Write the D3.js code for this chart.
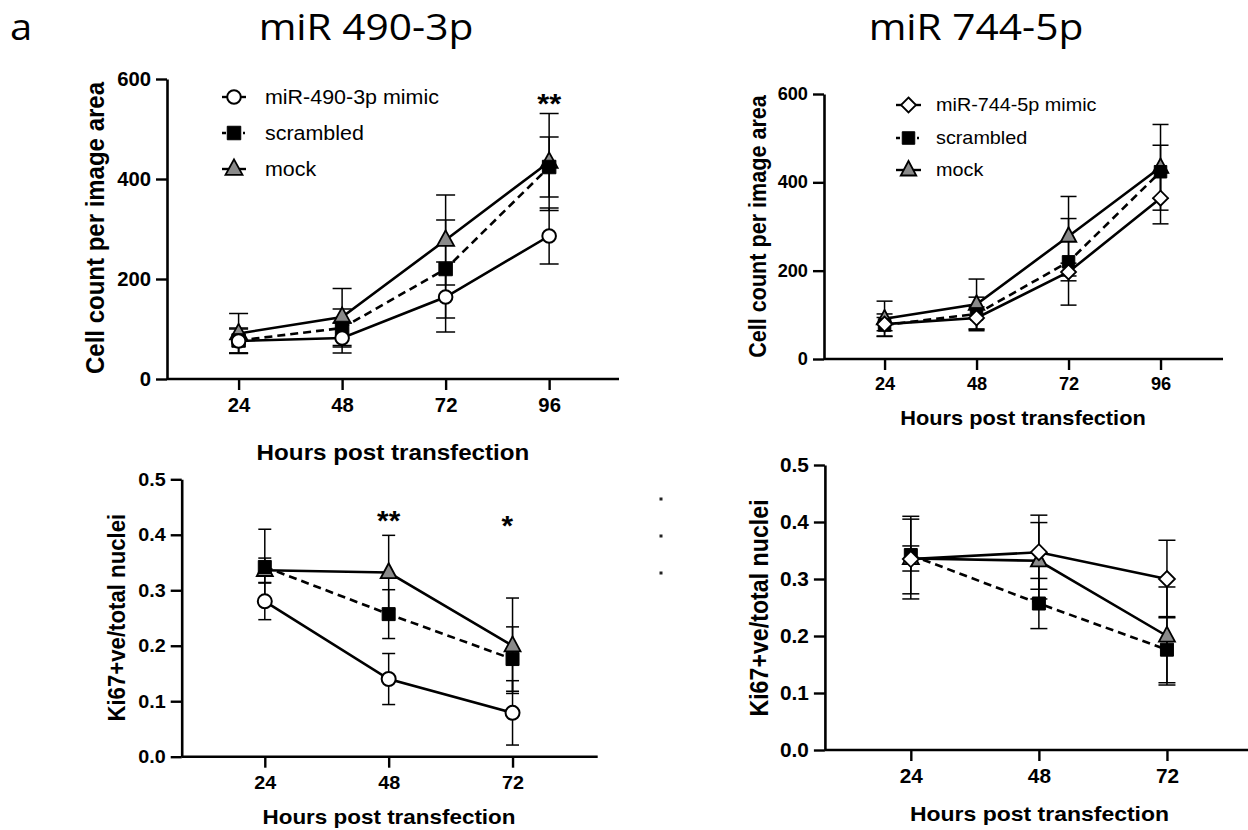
<!DOCTYPE html>
<html><head><meta charset="utf-8">
<script src="https://cdn.jsdelivr.net/npm/d3@7"></script>
<style>body{margin:0;background:#fff;} svg{display:block;}</style>
</head><body>
<svg id="c" width="1248" height="830"></svg>
<script>
// ---------------- data ----------------
const hoursCount = [24, 48, 72, 96];
const hoursKi = [24, 48, 72];
const countTicks = [0, 200, 400, 600];
const kiTicks = [0, 0.1, 0.2, 0.3, 0.4, 0.5];

const mimic490Count = [76, 82, 164, 286];
const mimic490CountErr = [24, 30, 70, 56];
const mimic744Count = [79, 93, 197, 364];
const mimic744CountErr = [15, 25, 20, 58];
const scrambledCount = [77, 102, 220, 424];
const scrambledCountErr = [25, 38, 98, 60];
const mockCount = [91, 124, 278, 434];
const mockCountErr = [40, 57, 90, 97];

const mimic490Ki = [0.280, 0.140, 0.079];
const mimic490KiErr = [0.033, 0.046, 0.058];
const mimic744Ki = [0.335, 0.347, 0.300];
const mimic744KiErr = [0.070, 0.065, 0.068];
const scrambledKi = [0.342, 0.257, 0.176];
const scrambledKiErr = [0.068, 0.044, 0.058];
const mockKi = [0.336, 0.332, 0.200];
const mockKiErr = [0.022, 0.067, 0.086];

const legend490 = ["miR-490-3p mimic", "scrambled", "mock"];
const legend744 = ["miR-744-5p mimic", "scrambled", "mock"];
const titles = ["miR 490-3p", "miR 744-5p"];
const panelLetter = "a";
const xTitle = "Hours post transfection";
const yTitleCount = "Cell count per image area";
const yTitleKi = "Ki67+ve/total nuclei";

// ---------------- drawing ----------------
const K = 1.1;   // horizontal stretch of the reference image
const KT = 1.04; // stretch used for tick labels
const svg = d3.select("#c");
const ARIAL = "'Liberation Sans', Arial, sans-serif";

function txt(g, s, x, y, o) {
  const t = g.append("text").text(s)
    .attr("transform", `translate(${x},${y}) scale(${o.k || K},1)` + (o.rot ? " rotate(-90)" : ""))
    .attr("font-family", o.family || ARIAL)
    .attr("font-size", o.size)
    .attr("font-weight", o.weight || "normal")
    .attr("text-anchor", o.anchor || "middle")
    .attr("fill", "#000");
  if (o.dy) t.attr("dy", o.dy);
  return t;
}

function markerPath(shape, s) {
  if (shape === "square") { const a = s.sq; return `M${-a/2},${-a/2}h${a}v${a}h${-a}Z`; }
  if (shape === "triangle") { const w = s.triW, h = s.triH; return `M0,${-h*0.62}L${w/2},${h*0.38}L${-w/2},${h*0.38}Z`; }
  if (shape === "diamond") { const d = s.dia; return `M0,${-d}L${d},0L0,${d}L${-d},0Z`; }
  return null;
}
function drawMarker(g, shape, x, y, s) {
  const fill = shape === "square" ? "#000" : shape === "triangle" ? "#8a8a8a" : "#fff";
  if (shape === "circle") {
    g.append("circle").attr("cx", x).attr("cy", y).attr("r", s.r)
      .attr("fill", fill).attr("stroke", "#000").attr("stroke-width", 2);
  } else {
    g.append("path").attr("d", markerPath(shape, s)).attr("transform", `translate(${x},${y})`)
      .attr("fill", fill).attr("stroke", "#000").attr("stroke-width", shape === "square" ? 1 : 1.8)
      .attr("stroke-linejoin", "miter");
  }
}

const panels = [
  { // top-left
    xDom: [7.4, 112.2], xRange: [167, 619], yDom: [0, 600], yRange: [379, 79],
    hours: hoursCount, yTicks: countTicks, fmt: d3.format("d"), yTitle: yTitleCount,
    series: [
      { v: mockCount, e: mockCountErr, shape: "triangle", dash: false },
      { v: scrambledCount, e: scrambledCountErr, shape: "square", dash: true },
      { v: mimic490Count, e: mimic490CountErr, shape: "circle", dash: false }
    ],
    tickFont: 19.5, xTitleFont: 22, yTitleFont: 24,
    xTitlePos: [393, 452], yTitlePos: [94, 228], cap: 9.5,
    ms: { r: 6.8, sq: 13.5, triW: 17, triH: 15.5, dia: 7.5 },
    legend: { names: legend490, shapes: ["circle", "square", "triangle"], ys: [97, 133, 169], x0: 222, x1: 246, tx: 265, font: 19.5 },
    stars: [{ h: 96, s: "**", y: 97.5, size: 28 }]
  },
  { // top-right
    xDom: [8.2, 112.3], xRange: [824, 1223], yDom: [0, 600], yRange: [359, 94],
    hours: hoursCount, yTicks: countTicks, fmt: d3.format("d"), yTitle: yTitleCount,
    series: [
      { v: mockCount, e: mockCountErr, shape: "triangle", dash: false },
      { v: scrambledCount, e: scrambledCountErr, shape: "square", dash: true },
      { v: mimic744Count, e: mimic744CountErr, shape: "diamond", dash: false }
    ],
    tickFont: 17.5, xTitleFont: 19.8, yTitleFont: 21.6,
    xTitlePos: [1023, 418], yTitlePos: [757, 226.5], cap: 8,
    ms: { r: 6.5, sq: 12.5, triW: 15.5, triH: 14.5, dia: 7.5 },
    legend: { names: legend744, shapes: ["diamond", "square", "triangle"], ys: [105, 138, 170], x0: 896, x1: 921, tx: 936, font: 18 },
    stars: []
  },
  { // bottom-left
    xDom: [7.9, 88.5], xRange: [181.7, 597.7], yDom: [0, 0.5], yRange: [756.7, 479.3],
    hours: hoursKi, yTicks: kiTicks, fmt: d3.format(".1f"), yTitle: yTitleKi,
    series: [
      { v: mockKi, e: mockKiErr, shape: "triangle", dash: false },
      { v: scrambledKi, e: scrambledKiErr, shape: "square", dash: true },
      { v: mimic490Ki, e: mimic490KiErr, shape: "circle", dash: false }
    ],
    tickFont: 19, xTitleFont: 20.4, yTitleFont: 22.2,
    xTitlePos: [389, 817], yTitlePos: [116.5, 617.7], cap: 6.5,
    ms: { r: 7, sq: 13, triW: 16, triH: 15, dia: 7.5 },
    legend: null,
    stars: [{ h: 48, s: "**", y: 515, size: 27 }, { h: 71, s: "*", y: 520, size: 27 }]
  },
  { // bottom-right
    xDom: [7.9, 88.5], xRange: [824.9, 1255], yDom: [0, 0.5], yRange: [750, 465],
    hours: hoursKi, yTicks: kiTicks, fmt: d3.format(".1f"), yTitle: yTitleKi,
    series: [
      { v: mockKi, e: mockKiErr, shape: "triangle", dash: false },
      { v: scrambledKi, e: scrambledKiErr, shape: "square", dash: true },
      { v: mimic744Ki, e: mimic744KiErr, shape: "diamond", dash: false }
    ],
    tickFont: 20, xTitleFont: 20.9, yTitleFont: 23.2,
    xTitlePos: [1039.5, 813.3], yTitlePos: [759, 608], cap: 8.5,
    ms: { r: 7, sq: 13, triW: 16, triH: 15, dia: 8 },
    legend: null,
    stars: []
  }
];

panels.forEach(p => {
  const g = svg.append("g");
  const x = d3.scaleLinear().domain(p.xDom).range(p.xRange);
  const y = d3.scaleLinear().domain(p.yDom).range(p.yRange);

  // axes
  const ya = g.append("g").attr("transform", `translate(${p.xRange[0]},0)`)
    .call(d3.axisLeft(y).tickValues(p.yTicks).tickFormat(p.fmt).tickSize(11).tickPadding(5).tickSizeOuter(0));
  const xa = g.append("g").attr("transform", `translate(0,${p.yRange[0]})`)
    .call(d3.axisBottom(x).tickValues(p.hours).tickFormat(d3.format("d")).tickSize(11).tickPadding(8).tickSizeOuter(0));
  [ya, xa].forEach(a => {
    a.select(".domain").attr("stroke-width", 2.6).attr("stroke", "#000");
    a.selectAll(".tick line").attr("stroke-width", 2.4).attr("stroke", "#000");
    a.selectAll(".tick text").attr("font-family", ARIAL).attr("font-weight", "bold")
      .attr("font-size", p.tickFont).attr("fill", "#000");
  });
  ya.selectAll(".tick text").each(function () {
    const t = d3.select(this); const tx = +t.attr("x");
    t.attr("x", 0).attr("transform", `translate(${tx},0) scale(${KT},1)`);
  });
  xa.selectAll(".tick text").attr("transform", `scale(${KT},1)`);
  xa.select(".domain").attr("d", `M${p.xRange[0]},0H${p.xRange[1]}`);

  // titles
  txt(g, xTitle, p.xTitlePos[0], p.xTitlePos[1], { size: p.xTitleFont, weight: "bold", dy: "0.36em" });
  txt(g, p.yTitle, p.yTitlePos[0], p.yTitlePos[1], { size: p.yTitleFont, weight: "bold", rot: true, dy: "0.36em" });

  // error bars
  const eg = g.append("g").attr("stroke", "#000").attr("stroke-width", 1.5).attr("fill", "none");
  p.series.forEach(s => {
    p.hours.forEach((h, i) => {
      const cx = x(h), top = y(s.v[i] + s.e[i]), bot = y(s.v[i] - s.e[i]);
      eg.append("line").attr("x1", cx).attr("x2", cx).attr("y1", top).attr("y2", bot);
      eg.append("line").attr("x1", cx - p.cap).attr("x2", cx + p.cap).attr("y1", top).attr("y2", top);
      eg.append("line").attr("x1", cx - p.cap).attr("x2", cx + p.cap).attr("y1", bot).attr("y2", bot);
    });
  });
  // lines
  const line = d3.line().x((d, i) => x(p.hours[i])).y(d => y(d));
  p.series.forEach(s => {
    g.append("path").attr("d", line(s.v)).attr("fill", "none").attr("stroke", "#000")
      .attr("stroke-width", 2.6).attr("stroke-dasharray", s.dash ? "8,5" : null);
  });
  // markers
  p.series.forEach(s => {
    p.hours.forEach((h, i) => drawMarker(g, s.shape, x(h), y(s.v[i]), p.ms));
  });

  // stars
  p.stars.forEach(st => {
    txt(g, st.s, x(st.h), st.y + 0.57 * st.size, { size: st.size, weight: "bold" });
  });

  // legend
  if (p.legend) {
    const L = p.legend;
    L.names.forEach((n, i) => {
      const yy = L.ys[i], sh = L.shapes[i];
      const cx = (L.x0 + L.x1) / 2;
      g.append("line").attr("x1", L.x0).attr("x2", L.x1).attr("y1", yy).attr("y2", yy)
        .attr("stroke", "#000").attr("stroke-width", 2.4)
        .attr("stroke-dasharray", sh === "square" ? "4,17,2,10" : null);
      drawMarker(g, sh, cx, yy, p.ms);
      txt(g, n, L.tx, yy, { size: L.font, anchor: "start", dy: "0.36em" });
    });
  }
});

// remnant dots of a cropped legend between the bottom panels
const remnantYs = [499, 536, 573];
remnantYs.forEach(yy => svg.append("rect").attr("x", 659.5).attr("y", yy - 1.5).attr("width", 3).attr("height", 3).attr("fill", "#222"));

// figure titles
const OPEN = "'Open Sans', 'Noto Sans', sans-serif";
txt(svg, panelLetter, 10, 40, { size: 37, family: OPEN, anchor: "start", k: 1.08 });
txt(svg, titles[0], 366, 40, { size: 37, family: OPEN, k: 1.1 });
txt(svg, titles[1], 976, 40, { size: 37, family: OPEN, k: 1.1 });
</script>
</body></html>
